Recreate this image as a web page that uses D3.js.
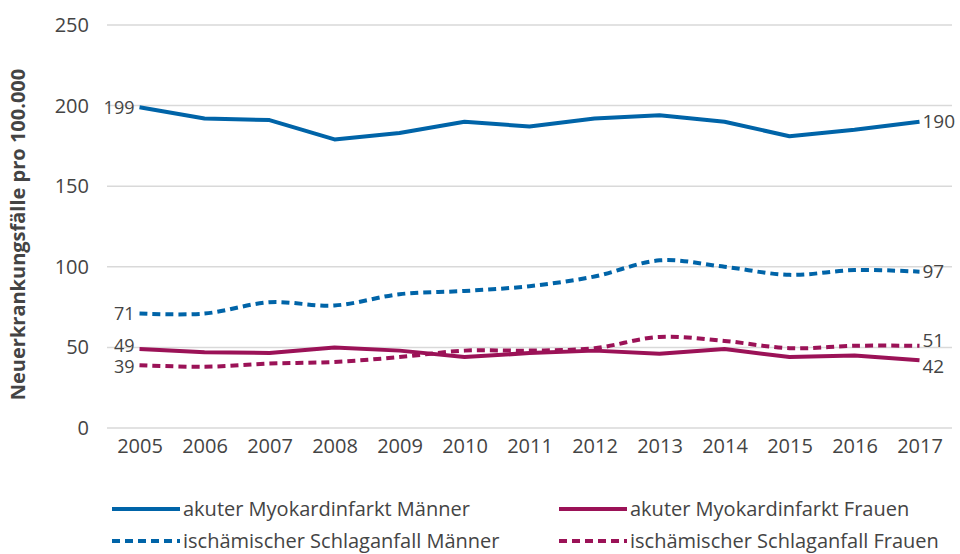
<!DOCTYPE html>
<html>
<head>
<meta charset="utf-8">
<script src="https://cdn.jsdelivr.net/npm/d3@7"></script>
<style>
  body { margin: 0; background: #fff; }
  text { font-family: "Open Sans", Lato, sans-serif; fill: #444; }
</style>
</head>
<body>
<div id="chart"></div>
<script>
// Data
const years = [2005, 2006, 2007, 2008, 2009, 2010, 2011, 2012, 2013, 2014, 2015, 2016, 2017];
const amiMen     = [199, 192, 191, 179, 183, 190, 187, 192, 194, 190, 181, 185, 190];
const amiWomen   = [49, 47, 46.5, 50, 48, 44, 46.5, 48, 46, 49, 44, 45, 42];
const strokeMen  = [71, 71, 78, 76, 83, 85, 88, 94, 104, 100, 95, 98, 97];
const strokeWomen = [39, 38, 40, 41, 44, 48, 48, 49.5, 56.5, 54, 49.5, 51, 51];
const yTicks = [0, 50, 100, 150, 200, 250];

const seriesNames = [
    "akuter Myokardinfarkt Männer",
    "akuter Myokardinfarkt Frauen",
    "ischämischer Schlaganfall Männer",
    "ischämischer Schlaganfall Frauen"
];

const blue = "#0064a8";
const berry = "#9b1257";

const series = [
    { name: seriesNames[0], values: amiMen, color: blue, dashed: false, startDy: 0, endDy: 0 },
    { name: seriesNames[1], values: amiWomen, color: berry, dashed: false, startDy: -3, endDy: 6 },
    { name: seriesNames[2], values: strokeMen, color: blue, dashed: true, startDy: 0, endDy: 0 },
    { name: seriesNames[3], values: strokeWomen, color: berry, dashed: true, startDy: 2, endDy: -5 }
];

const W = 960, H = 554;
const margin = { top: 25, right: 8, bottom: 126, left: 107 };
const width = W - margin.left - margin.right;
const height = H - margin.top - margin.bottom;

const svg = d3.select("#chart").append("svg")
    .attr("width", W)
    .attr("height", H);

const g = svg.append("g")
    .attr("transform", `translate(${margin.left},${margin.top})`);

const x = d3.scalePoint()
    .domain(years)
    .range([0, width])
    .padding(0.5);

const y = d3.scaleLinear()
    .domain([0, 250])
    .range([height, 0]);

// gridlines
g.append("g")
    .selectAll("line")
    .data(yTicks)
    .enter().append("line")
    .attr("x1", 0)
    .attr("x2", width)
    .attr("y1", d => y(d))
    .attr("y2", d => y(d))
    .attr("stroke", "#d9d9d9")
    .attr("stroke-width", 1.5);

// y axis labels
const yAxis = g.append("g")
    .call(d3.axisLeft(y).tickValues(yTicks).tickSize(0).tickPadding(18));
yAxis.select(".domain").remove();
yAxis.selectAll("text")
    .style("font-size", "20px")
    .style("font-family", "'Open Sans', sans-serif")
    .attr("fill", "#555");

// x axis labels
const xAxis = g.append("g")
    .attr("transform", `translate(0,${height})`)
    .call(d3.axisBottom(x).tickSize(0).tickPadding(11));
xAxis.select(".domain").remove();
xAxis.selectAll("text")
    .style("font-size", "20px")
    .style("font-family", "'Open Sans', sans-serif")
    .attr("fill", "#555");

// axis title
svg.append("text")
    .attr("transform", `translate(25,${margin.top + height / 2 + 8}) rotate(-90)`)
    .attr("text-anchor", "middle")
    .style("font-size", "20px")
    .style("font-weight", "bold")
    .attr("fill", "#666")
    .text("Neuerkrankungsfälle pro 100.000");

// lines
const straight = d3.line()
    .x((d, i) => x(years[i]))
    .y(d => y(d));
const smooth = d3.line()
    .x((d, i) => x(years[i]))
    .y(d => y(d))
    .curve(d3.curveCardinal.tension(0));

g.selectAll(".series")
    .data(series)
    .enter().append("path")
    .attr("class", "series")
    .attr("d", d => (d.dashed ? smooth : straight)(d.values))
    .attr("fill", "none")
    .attr("stroke", d => d.color)
    .attr("stroke-width", 4)
    .attr("stroke-dasharray", d => d.dashed ? "8,5" : null)
    .attr("stroke-linejoin", "round");

// start / end labels
series.forEach(s => {
    g.append("text")
        .attr("x", x(years[0]) - 5)
        .attr("y", y(s.values[0]) + s.startDy)
        .attr("dy", "0.35em")
        .attr("text-anchor", "end")
        .style("font-size", "18px")
        .attr("fill", "#333")
        .text(d3.format("d")(s.values[0]));
    g.append("text")
        .attr("x", x(years[years.length - 1]) + 3)
        .attr("y", y(s.values[s.values.length - 1]) + s.endDy)
        .attr("dy", "0.35em")
        .style("font-size", "19px")
        .attr("fill", "#333")
        .text(d3.format("d")(s.values[s.values.length - 1]));
});

// legend
const legendPos = [[112, 509], [559, 509], [112, 541], [559, 541]];
const legend = svg.selectAll(".legend")
    .data(series)
    .enter().append("g")
    .attr("class", "legend")
    .attr("transform", (d, i) => `translate(${legendPos[i][0]},${legendPos[i][1]})`);

legend.append("line")
    .attr("x1", 0)
    .attr("x2", 68)
    .attr("stroke", d => d.color)
    .attr("stroke-width", 4)
    .attr("stroke-dasharray", d => d.dashed ? "8,5" : null);

legend.append("text")
    .attr("x", 71)
    .attr("dy", "0.35em")
    .style("font-size", "20px")
    .attr("fill", "#444")
    .text(d => d.name);
</script>
</body>
</html>
